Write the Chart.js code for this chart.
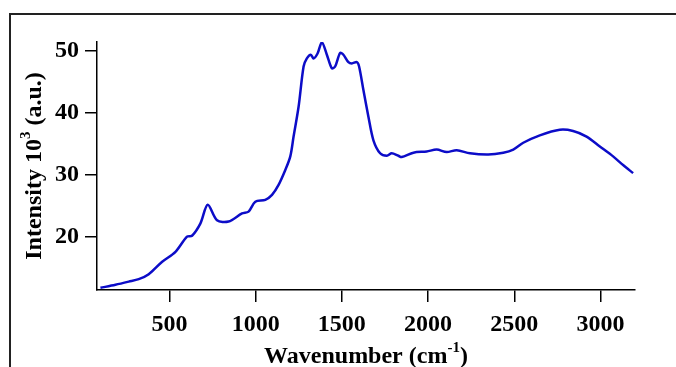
<!DOCTYPE html>
<html>
<head>
<meta charset="utf-8">
<script src="https://cdn.jsdelivr.net/npm/chart.js@4.4.0/dist/chart.umd.min.js"></script>
<style>
  body { margin: 0; background: #fff; }
  #wrap { position: relative; width: 676px; height: 367px; }
  #frame { position: absolute; left: 9px; top: 13px; right: 0; bottom: 0;
           border-top: 2px solid #222; border-left: 2px solid #222; }
  canvas { position: absolute; left: 0; top: 0; }
</style>
</head>
<body>
<div id="wrap">
  <div id="frame"></div>
  <canvas id="chart" width="676" height="367"></canvas>
</div>
<script>
// spectrum
const wavenumbers = [100, 187, 264, 322, 380, 458, 535, 602, 631, 680, 722, 776, 843, 921, 959, 998,
  1056, 1095, 1133, 1172, 1201, 1220, 1249, 1278, 1297, 1320, 1336, 1359, 1384, 1413, 1442, 1461,
  1490, 1509, 1538, 1558, 1587, 1600, 1625, 1654, 1683, 1722, 1761, 1789, 1828, 1847, 1915, 1992,
  2050, 2108, 2166, 2243, 2349, 2436, 2494, 2552, 2648, 2764, 2841, 2919, 2996, 3073, 3131, 3189];
const intensity = [11.8, 12.3, 12.8, 13.2, 14.0, 16.0, 17.6, 20.05, 20.2, 22.2, 25.2, 22.7, 22.5, 23.8, 24.1, 25.7,
  26.0, 26.8, 28.4, 30.8, 33.0, 36.2, 41.0, 47.5, 48.8, 49.4, 48.8, 49.6, 51.4, 49.4, 47.2, 47.5,
  49.7, 49.4, 48.2, 48.0, 48.2, 47.5, 43.7, 39.4, 35.6, 33.5, 33.1, 33.5, 33.1, 32.9, 33.6, 33.8,
  34.1, 33.7, 34.0, 33.5, 33.3, 33.6, 34.1, 35.2, 36.4, 37.3, 37.1, 36.2, 34.6, 33.0, 31.6, 30.3];
const xTicks = [500, 1000, 1500, 2000, 2500, 3000];
const yTicks = [20, 30, 40, 50];

const FONT = "'Liberation Serif', 'Times New Roman', serif";

// axis titles with superscripts
const titlesPlugin = {
  id: 'titles',
  afterDraw(chart) {
    const ctx = chart.ctx;
    const area = chart.chartArea;
    ctx.save();
    ctx.fillStyle = '#000';
    ctx.textBaseline = 'alphabetic';

    // x title
    let big = 'bold 24px ' + FONT, small = 'bold 15px ' + FONT;
    ctx.font = big;
    let w1 = ctx.measureText('Wavenumber (cm').width;
    let w3 = ctx.measureText(')').width;
    ctx.font = small;
    let w2 = ctx.measureText('-1').width;
    let x0 = (area.left + area.right) / 2 - (w1 + w2 + w3) / 2;
    let base = 363;
    ctx.font = big;
    ctx.textAlign = 'left';
    ctx.fillText('Wavenumber (cm', x0, base);
    ctx.font = small;
    ctx.fillText('-1', x0 + w1, base - 11);
    ctx.font = big;
    ctx.fillText(')', x0 + w1 + w2, base);

    // y title
    ctx.translate(41, (area.top + area.bottom) / 2);
    ctx.rotate(-Math.PI / 2);
    ctx.font = big;
    let a = ctx.measureText('Intensity 10').width;
    let c = ctx.measureText(' (a.u.)').width;
    ctx.font = small;
    let b = ctx.measureText('3').width;
    let s = -(a + b + c) / 2;
    ctx.font = big;
    ctx.fillText('Intensity 10', s, 0);
    ctx.font = small;
    ctx.fillText('3', s + a, -11);
    ctx.font = big;
    ctx.fillText(' (a.u.)', s + a + b, 0);
    ctx.restore();
  }
};

function spectrumChart(id) {
  let points = [];
  for (let i = 0; i < wavenumbers.length; i++)
    points.push({x: wavenumbers[i], y: intensity[i]});

  const data = {
    datasets: [{
      data: points,
      borderColor: 'rgb(12,12,200)',
      borderWidth: 2.5,
      pointRadius: 0,
      tension: 0.3
    }]
  };

  const tickFont = {family: FONT, size: 24, weight: 'bold'};

  const config = {
    type: 'line',
    data: data,
    options: {
      responsive: false,
      animation: false,
      layout: {padding: {top: 42, right: 41, left: 0, bottom: 0}},
      plugins: {legend: {display: false}, tooltip: {enabled: false}},
      scales: {
        x: {
          type: 'linear',
          min: 80,
          max: 3200,
          afterBuildTicks: (scale) => { scale.ticks = xTicks.map(v => ({value: v})); },
          afterFit: (scale) => { scale.height = 77; },
          border: {display: true, color: '#000', width: 1.5},
          grid: {drawOnChartArea: false, color: '#000', lineWidth: 1.5, tickLength: 12},
          ticks: {color: '#000', font: tickFont, padding: 8, maxRotation: 0,
                  callback: (v) => String(v)}
        },
        y: {
          min: 11.45,
          max: 51.45,
          afterBuildTicks: (scale) => { scale.ticks = yTicks.map(v => ({value: v})); },
          afterFit: (scale) => { scale.width = 97; },
          border: {display: true, color: '#000', width: 1.5},
          grid: {drawOnChartArea: false, color: '#000', lineWidth: 1.5, tickLength: 12},
          ticks: {color: '#000', font: tickFont, padding: 6, callback: (v) => String(v)}
        }
      }
    },
    plugins: [titlesPlugin]
  };

  let ctx = document.getElementById(id).getContext('2d');
  new Chart(ctx, config);
}

spectrumChart('chart');
</script>
</body>
</html>
